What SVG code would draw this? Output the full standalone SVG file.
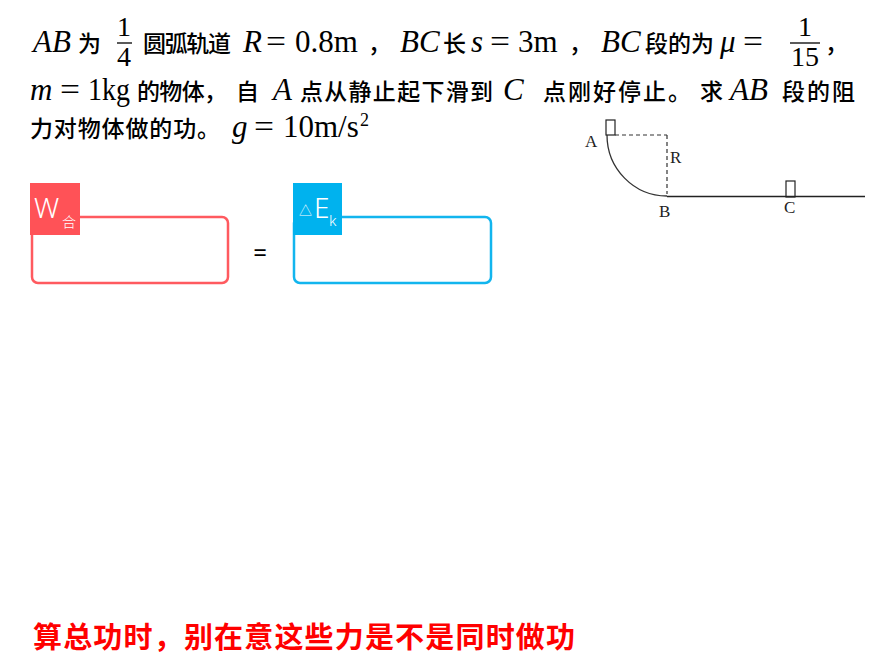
<svg xmlns="http://www.w3.org/2000/svg" width="891" height="666" viewBox="0 0 891 666">
<style>
.m{font-family:"Liberation Serif","DejaVu Serif",serif;font-size:31px;fill:#000}
.f{font-family:"Liberation Serif","DejaVu Serif",serif;font-size:28px;fill:#000}
.i{font-style:italic}
.c{font-family:"Noto Sans CJK SC","Noto Sans",sans-serif;font-size:23px;font-weight:500;fill:#000}
.lbl{font-family:"Liberation Serif",serif;font-size:17px;fill:#222}
.hd{font-family:"Noto Sans","Noto Sans CJK SC",sans-serif;fill:#fff;font-weight:300}
</style>
<rect width="891" height="666" fill="#fff"/>
<g id="problem-text">
<text class="m i" x="33" y="52">AB</text>
<text class="c" x="78" y="52">为</text>
<text class="f" x="124" y="36" text-anchor="middle">1</text>
<line x1="117" y1="43" x2="132" y2="43" stroke="#000" stroke-width="1.3"/>
<text class="f" x="124" y="66" text-anchor="middle">4</text>
<text class="c" x="143" y="52" textLength="88">圆弧轨道</text>
<text class="m i" x="243" y="52">R</text>
<text class="m" x="266" y="52" textLength="20" lengthAdjust="spacingAndGlyphs">=</text>
<text class="m" x="295" y="52">0.8m</text>
<text class="c" x="368" y="52">，</text>
<text class="m i" x="400" y="52">BC</text>
<text class="c" x="443" y="52">长</text>
<text class="m i" x="471" y="52">s</text>
<text class="m" x="490" y="52" textLength="20" lengthAdjust="spacingAndGlyphs">=</text>
<text class="m" x="518" y="52">3m</text>
<text class="c" x="569" y="52">，</text>
<text class="m i" x="601" y="52">BC</text>
<text class="c" x="645" y="52" textLength="69">段的为</text>
<text class="m i" x="720" y="52">μ</text>
<text class="m" x="743" y="52" textLength="20" lengthAdjust="spacingAndGlyphs">=</text>
<text class="f" x="805" y="36" text-anchor="middle">1</text>
<line x1="790" y1="43" x2="820" y2="43" stroke="#000" stroke-width="1.3"/>
<text class="f" x="805" y="66" text-anchor="middle">15</text>
<text class="c" x="825" y="52">，</text>

<text class="m i" x="30" y="100">m</text>
<text class="m" x="60" y="100" textLength="20" lengthAdjust="spacingAndGlyphs">=</text>
<text class="m" x="88" y="100" textLength="42" lengthAdjust="spacingAndGlyphs">1kg</text>
<text class="c" x="137" y="100" textLength="90">的物体，</text>
<text class="c" x="236" y="100">自</text>
<text class="m i" x="273" y="100">A</text>
<text class="c" x="300" y="100" textLength="193">点从静止起下滑到</text>
<text class="m i" x="503" y="100">C</text>
<text class="c" x="543" y="100" textLength="148">点刚好停止。</text>
<text class="c" x="700" y="100">求</text>
<text class="m i" x="730" y="100">AB</text>
<text class="c" x="782" y="100" textLength="73">段的阻</text>

<text class="c" x="30" y="137" textLength="190">力对物体做的功。</text>
<text class="m i" x="232" y="137">g</text>
<text class="m" x="254" y="137" textLength="20" lengthAdjust="spacingAndGlyphs">=</text>
<text class="m" x="283" y="137">10m/s</text>
<text class="m" x="360" y="126" style="font-size:18px">2</text>
</g>

<g id="figure">
<path d="M607,135 A60,61 0 0 0 667,196" fill="none" stroke="#333" stroke-width="1.3"/>
<line x1="667" y1="196.5" x2="865" y2="196.5" stroke="#222" stroke-width="1.5"/>
<line x1="615" y1="135" x2="667" y2="135" stroke="#333" stroke-width="1.2" stroke-dasharray="4,3"/>
<line x1="667" y1="135" x2="667" y2="194" stroke="#333" stroke-width="1.2" stroke-dasharray="4,3"/>
<rect x="606" y="120" width="9" height="15" fill="#fff" stroke="#222" stroke-width="1.2"/>
<rect x="786" y="181" width="9" height="16" fill="none" stroke="#222" stroke-width="1.2"/>
<text class="lbl" x="585" y="147">A</text>
<text class="lbl" x="670" y="163">R</text>
<text class="lbl" x="659" y="217">B</text>
<text class="lbl" x="784" y="213">C</text>
</g>

<g id="node-w">
<rect x="32" y="217" width="196" height="66" rx="6" fill="none" stroke="#FF5A5F" stroke-width="2.5"/>
<rect x="30" y="183" width="50" height="52" fill="#FF5257"/>
<text class="hd" x="34" y="218" font-size="28">W</text>
<text class="hd" x="62" y="227" font-size="14">合</text>
</g>

<g id="node-ek">
<rect x="294" y="217" width="197" height="66" rx="6" fill="none" stroke="#12B5EE" stroke-width="2.5"/>
<rect x="293" y="183" width="49" height="52" fill="#00B2EE"/>
<text class="hd" x="299" y="215" font-size="13">△</text>
<text class="hd" x="314" y="218" font-size="28">E</text>
<text class="hd" x="329" y="226" font-size="15">k</text>
</g>

<g id="connectors">
<text x="260" y="261" text-anchor="middle" font-family="Noto Sans, sans-serif" font-size="24" fill="#000">=</text>
</g>

<text x="33" y="648" font-family="Noto Sans CJK SC, sans-serif" font-size="29" font-weight="bold" fill="#FF0000" textLength="542">算总功时，别在意这些力是不是同时做功</text>
</svg>
